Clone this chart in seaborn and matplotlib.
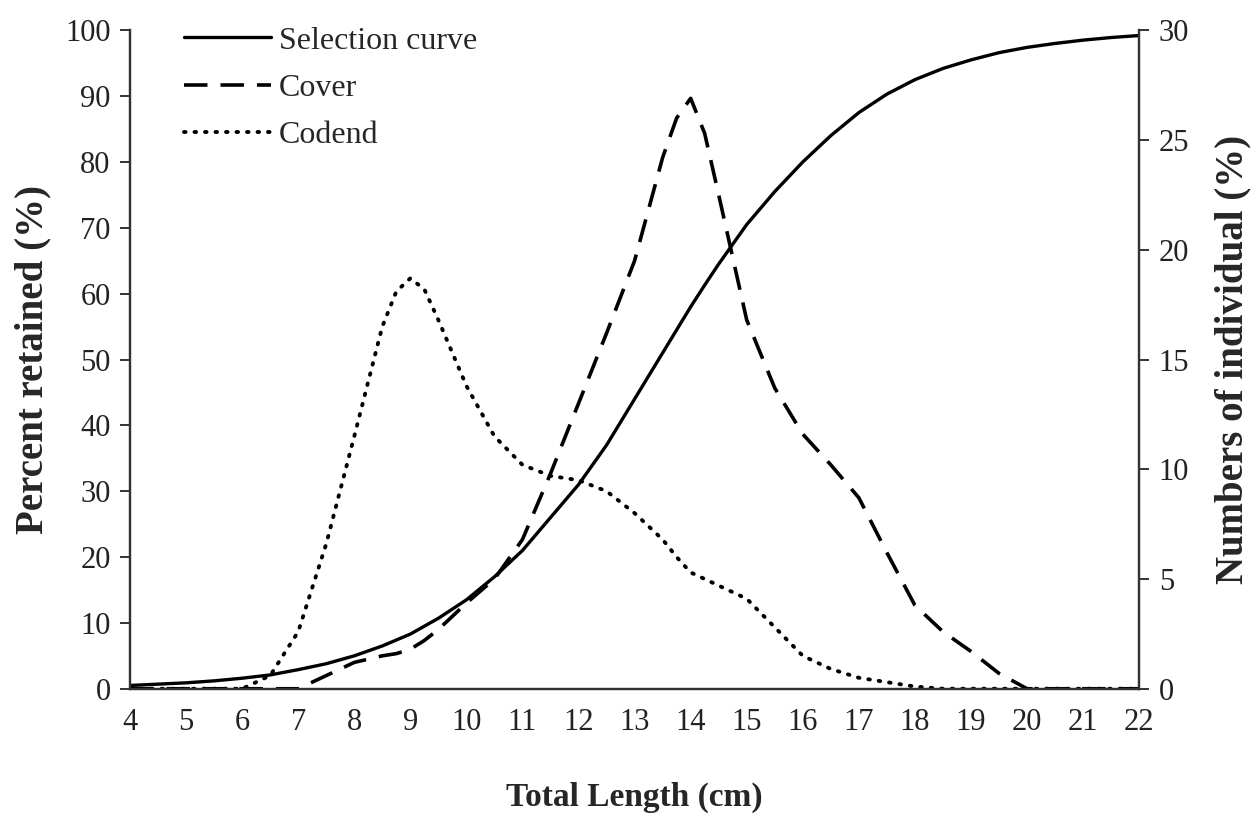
import matplotlib
matplotlib.use('Agg')
import matplotlib.pyplot as plt
import seaborn as sns
import pandas as pd

# Total length classes (cm), read at half-cm steps (plus a few around the peaks)
length = [4, 4.5, 5, 5.5, 6, 6.5, 7, 7.5, 8, 8.5, 8.75, 9, 9.25, 9.5, 10, 10.5, 11,
          11.5, 12, 12.5, 13, 13.5, 13.75, 14, 14.25, 14.5, 15, 15.5, 16, 16.5, 17,
          17.5, 18, 18.5, 19, 19.5, 20, 20.5, 21, 21.5, 22]

# Selection curve, percent retained (left axis)
selection = [0.5, 0.7, 0.9, 1.2, 1.6, 2.1, 2.9, 3.8, 5.0, 6.5, 7.4, 8.3, 9.5, 10.7,
             13.5, 17.0, 21.0, 26.0, 31.0, 37.0, 44.0, 51.0, 54.5, 58.0, 61.3, 64.5,
             70.5, 75.5, 80.0, 84.0, 87.5, 90.3, 92.5, 94.2, 95.5, 96.6, 97.4, 98.0,
             98.5, 98.9, 99.2]

# Numbers of individuals (%), right axis
cover = [0, 0, 0, 0, 0, 0, 0, 0.6, 1.2, 1.5, 1.6, 1.8, 2.2, 2.7, 3.9, 5.0, 6.8, 9.8,
         13.0, 16.2, 19.5, 24.2, 26.0, 26.9, 25.3, 22.5, 16.8, 13.7, 11.6, 10.2, 8.7,
         6.2, 3.8, 2.6, 1.7, 0.7, 0, 0, 0, 0, 0]
codend = [0, 0, 0, 0, 0, 0.6, 2.6, 6.6, 11.5, 16.5, 18.1, 18.7, 18.2, 16.8, 13.8, 11.5,
          10.2, 9.7, 9.5, 9.0, 8.0, 6.8, 6.0, 5.3, 5.0, 4.7, 4.1, 2.8, 1.5, 0.9, 0.5,
          0.3, 0.1, 0, 0, 0, 0, 0, 0, 0, 0]

df = pd.DataFrame({'length': length, 'selection': selection,
                   'cover': cover, 'codend': codend})

sns.set_style('white')
plt.rcParams['font.family'] = ['Liberation Serif', 'DejaVu Serif']
plt.rcParams['axes.edgecolor'] = '#333333'
plt.rcParams['axes.linewidth'] = 1.6

fig = plt.figure(figsize=(12.56, 8.18), dpi=100)
ax = fig.add_axes([0.1035, 0.158, 0.8035, 0.805])
ax2 = ax.twinx()

sns.lineplot(data=df, x='length', y='selection', ax=ax, color='black', lw=2.4,
             label='Selection curve', legend=False)
sns.lineplot(data=df, x='length', y='cover', ax=ax2, color='black', lw=2.6,
             label='Cover', legend=False)
sns.lineplot(data=df, x='length', y='codend', ax=ax2, color='black', lw=2.8,
             label='Codend', legend=False)
ax2.lines[0].set_dashes([6.5, 3.6])
ax2.lines[1].set_dashes([0.4, 2.3])
ax2.lines[1].set_dash_capstyle('round')

ax.set_xlim(4, 22)
ax.set_ylim(0, 100)
ax2.set_ylim(0, 30)
ax.set_xticks(range(4, 23))
ax.set_yticks(range(0, 101, 10))
ax2.set_yticks(range(0, 31, 5))

for a in (ax, ax2):
    a.spines['top'].set_visible(False)
    a.tick_params(labelsize=22, length=7, width=1.4, color='#333333',
                  labelcolor='#222222', pad=7)

ax.set_xlabel('Total Length (cm)', fontsize=24, fontweight='bold', labelpad=32)
ax.set_ylabel('Percent retained (%)', fontsize=28, fontweight='bold', labelpad=10)
ax2.set_ylabel('Numbers of individual (%)', fontsize=28, fontweight='bold', labelpad=18)

handles = ax.lines[:1] + ax2.lines[:2]
labels = ['Selection curve', 'Cover', 'Codend']
ax.legend(handles, labels, loc='upper left', bbox_to_anchor=(0.054, 1.006),
          frameon=False, fontsize=23, handlelength=2.7, handletextpad=0.25,
          labelspacing=0.56, borderaxespad=0, borderpad=0)

fig.savefig('out.png', dpi=100)
